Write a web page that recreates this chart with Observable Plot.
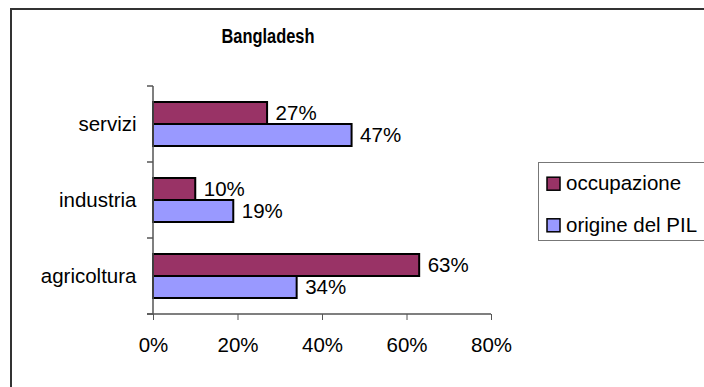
<!DOCTYPE html>
<html>
<head>
<meta charset="utf-8">
<script src="https://cdn.jsdelivr.net/npm/d3@7"></script>
<script src="https://cdn.jsdelivr.net/npm/@observablehq/plot@0.6"></script>
<style>
  html, body { margin: 0; padding: 0; background: #fff; }
  #chart { width: 704px; height: 387px; overflow: hidden; }
  #chart svg { display: block; }
</style>
</head>
<body>
<div id="chart"></div>
<script>
// Bangladesh: share of employment vs. share of GDP by sector (%)
const title = "Bangladesh";
const categories = ["servizi", "industria", "agricoltura"];
const series = ["occupazione", "origine del PIL"];
const occupazione = [27, 10, 63];
const originePIL = [47, 19, 34];
const xTicks = [0, 20, 40, 60, 80];
const colors = ["#993366", "#9999ff"];

const rows = categories.flatMap((c, i) => [
  {category: c, series: series[0], value: occupazione[i]},
  {category: c, series: series[1], value: originePIL[i]}
]);
const first = rows.filter(d => d.series === series[0]);
const second = rows.filter(d => d.series === series[1]);

const FONT = "'Liberation Sans', Arial, sans-serif";
const W = 704, H = 387;
const half = 22; // each bar takes half of the band

const plot = Plot.plot({
  width: W,
  height: H,
  marginLeft: 153,
  marginRight: 213,
  marginTop: 86,
  marginBottom: 73,
  style: {fontFamily: FONT, fontSize: "20.5px", color: "#000", background: "#fff", overflow: "visible"},
  x: {domain: [0, 80], ticks: xTicks, tickFormat: d => d + "%", tickSize: 6, tickPadding: 17, label: null},
  y: {domain: categories, paddingInner: 32 / 76, paddingOuter: 16 / 76, align: 0.5, round: false,
      tickSize: 0, tickPadding: 17, label: null},
  color: {domain: series, range: colors},
  marks: [
    Plot.barX(first, {y: "category", x: "value", fill: "series", stroke: "#000", strokeWidth: 2, insetBottom: half}),
    Plot.barX(second, {y: "category", x: "value", fill: "series", stroke: "#000", strokeWidth: 2, insetTop: half}),
    Plot.text(first, {y: "category", x: "value", text: d => d.value + "%", textAnchor: "start", dx: 8, dy: -half / 2}),
    Plot.text(second, {y: "category", x: "value", text: d => d.value + "%", textAnchor: "start", dx: 8, dy: half / 2})
  ]
});

document.getElementById("chart").appendChild(plot);

const svg = d3.select(plot);
const xs = plot.scale("x");
const ys = plot.scale("y");
const [x0, x1] = xs.range;
const [y0, y1] = ys.range;
const step = (y1 - y0) / ys.domain.length;
const axisColor = "#555";

// soften the x tick marks to match the axis lines
svg.selectAll('[aria-label="x-axis tick"]').attr("stroke", axisColor);
svg.selectAll('[aria-label="x-axis"] .tick line').attr("stroke", axisColor);

const axes = svg.append("g").attr("stroke", axisColor).attr("stroke-width", 1.5);
// value axis line, extended by the category tick at its left end
axes.append("line").attr("x1", x0 - 6).attr("x2", x1).attr("y1", y1).attr("y2", y1);
// category axis line
axes.append("line").attr("x1", x0).attr("x2", x0).attr("y1", y0).attr("y2", y1);
// category boundary ticks
d3.range(ys.domain.length + 1).forEach(i => {
  const y = y0 + i * step;
  axes.append("line").attr("x1", x0 - 6).attr("x2", x0).attr("y1", y).attr("y2", y);
});

// chart title
svg.append("text")
  .attr("x", 268).attr("y", 42.5)
  .attr("text-anchor", "middle")
  .attr("font-family", FONT).attr("font-weight", "bold").attr("font-size", 20)
  .attr("textLength", 93).attr("lengthAdjust", "spacingAndGlyphs")
  .text(title);

// legend
const lg = svg.append("g").attr("font-family", FONT).attr("font-size", 20.5).attr("text-anchor", "start");
lg.append("rect").attr("x", 538.5).attr("y", 162.5).attr("width", 200).attr("height", 78)
  .attr("fill", "none").attr("stroke", "#777").attr("stroke-width", 1);
series.forEach((s, i) => {
  const cy = 183.7 + i * 41.6;
  lg.append("rect").attr("x", 547).attr("y", cy - 6.5).attr("width", 13).attr("height", 13)
    .attr("fill", plot.scale("color").apply(s)).attr("stroke", "#000").attr("stroke-width", 1.5);
  lg.append("text").attr("x", 566).attr("y", cy + 6.4).attr("text-anchor", "start").text(s);
});

// outer chart border
svg.append("rect").attr("x", 11).attr("y", 9).attr("width", 800).attr("height", 500)
  .attr("fill", "none").attr("stroke", "#333").attr("stroke-width", 2);
</script>
</body>
</html>
